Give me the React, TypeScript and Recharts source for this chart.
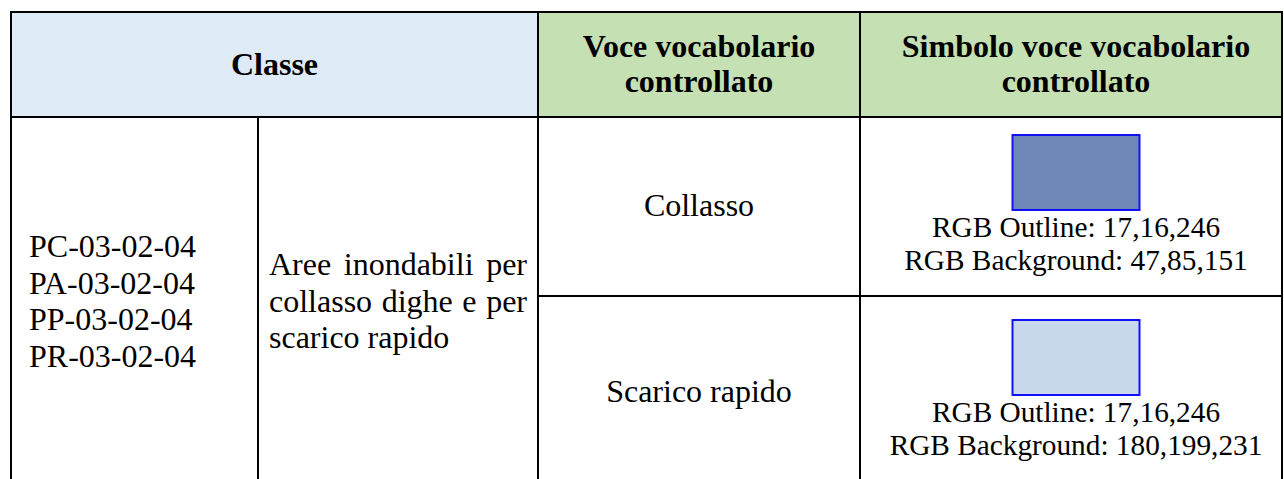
import React from 'react';
import { ComposedChart, XAxis, YAxis, ReferenceArea, ReferenceLine, ReferenceDot } from 'recharts';

// ---- data ----
const headerLabels: string[][] = [['Classe'], ['Voce vocabolario', 'controllato'], ['Simbolo voce vocabolario', 'controllato']];
const classCodes = ['PC-03-02-04', 'PA-03-02-04', 'PP-03-02-04', 'PR-03-02-04'];
const classDescriptionLines = ['Aree inondabili per', 'collasso dighe e per', 'scarico rapido'];
const vocabularyItems = ['Collasso', 'Scarico rapido'];
const outlineRGB: number[][] = [[17, 16, 246], [17, 16, 246]];
const backgroundRGB: number[][] = [[47, 85, 151], [180, 199, 231]];

// ---- layout ----
const W = 1284;
const H = 479;
const FONT = '"Liberation Serif", "Times New Roman", serif';
const colX = [11, 258, 538, 860, 1282];
const topY = 12;
const headerBottom = 117;
const rowDivY = 296;
const bottomY = 490;

const rgb = (c: number[]) => `rgb(${c[0]},${c[1]},${c[2]})`;

let ctx: CanvasRenderingContext2D | null = null;
const measure = (t: string, font: string) => {
  if (!ctx) ctx = document.createElement('canvas').getContext('2d');
  if (!ctx) return t.length * 14;
  ctx.font = font;
  return ctx.measureText(t).width;
};

const txt = (key: string, x: number, y: number, value: string, opts: any = {}) => (
  <ReferenceDot
    key={key}
    x={x}
    y={y}
    r={0}
    ifOverflow="visible"
    shape={(p: any) => (
      <text
        x={p.cx}
        y={p.cy}
        fontFamily={FONT}
        fontSize={opts.size || 32}
        fontWeight={opts.bold ? 'bold' : 'normal'}
        textAnchor={opts.anchor || 'middle'}
        fill="#000"
      >
        {value}
      </text>
    )}
  />
);

const justified = (key: string, x0: number, x1: number, y: number, line: string, last: boolean) => {
  const words = line.split(' ');
  const font = `32px ${FONT}`;
  const widths = words.map((w) => measure(w, font));
  const total = widths.reduce((a, b) => a + b, 0);
  const gap = last || words.length < 2 ? measure(' ', font) : (x1 - x0 - total) / (words.length - 1);
  let cur = x0;
  return words.map((w, i) => {
    const el = txt(`${key}-${i}`, cur, y, w, { anchor: 'start' });
    cur += widths[i] + gap;
    return el;
  });
};

const seg = (key: string, x1: number, y1: number, x2: number, y2: number) => (
  <ReferenceLine
    key={key}
    segment={[{ x: x1, y: y1 }, { x: x2, y: y2 }]}
    stroke="#000"
    strokeWidth={2}
    ifOverflow="visible"
  />
);

export default function App() {
  const symbolCenter = 1076;
  const vocabCenter = (colX[2] + colX[3]) / 2;
  const rowTops = [headerBottom, rowDivY];
  const swatchTop = [135, 320];
  const swatchH = 75;
  const swatchW = 127;
  const labelBase = [237, 422];
  const vocabBase = [216, 402];
  return (
    <div style={{ position: 'absolute', left: 0, top: 0, width: W, height: H, background: '#fff' }}>
      <ComposedChart width={W} height={H} data={[{ x: 0, y: 0 }]} margin={{ top: 0, right: 0, bottom: 0, left: 0 }}>
        <XAxis type="number" dataKey="x" domain={[0, W]} hide allowDataOverflow />
        <YAxis type="number" dataKey="y" domain={[0, H]} reversed hide allowDataOverflow />
        {/* header backgrounds */}
        <ReferenceArea x1={colX[0]} x2={colX[2]} y1={topY} y2={headerBottom} fill="#DEEAF6" fillOpacity={1} stroke="none" ifOverflow="visible" />
        <ReferenceArea x1={colX[2]} x2={colX[4]} y1={topY} y2={headerBottom} fill="#C5E0B3" fillOpacity={1} stroke="none" ifOverflow="visible" />
        {/* swatches */}
        {vocabularyItems.map((_, i) => (
          <ReferenceArea
            key={`sw${i}`}
            x1={symbolCenter - swatchW / 2}
            x2={symbolCenter + swatchW / 2}
            y1={swatchTop[i]}
            y2={swatchTop[i] + swatchH}
            fill={rgb(backgroundRGB[i])}
            fillOpacity={0.7}
            stroke={rgb(outlineRGB[i])}
            strokeOpacity={1}
            strokeWidth={2}
            ifOverflow="visible"
          />
        ))}
        {/* borders */}
        {seg('top', colX[0] - 1, topY, colX[4] + 1, topY)}
        {seg('hb', colX[0] - 1, headerBottom, colX[4] + 1, headerBottom)}
        {seg('rd', colX[2], rowDivY, colX[4] + 1, rowDivY)}
        {seg('v0', colX[0], topY, colX[0], bottomY)}
        {seg('v1', colX[1], headerBottom, colX[1], bottomY)}
        {seg('v2', colX[2], topY, colX[2], bottomY)}
        {seg('v3', colX[3], topY, colX[3], bottomY)}
        {seg('v4', colX[4], topY, colX[4], bottomY)}
        {/* header text */}
        {txt('h0', (colX[0] + colX[2]) / 2, 75, headerLabels[0][0], { bold: true })}
        {headerLabels[1].map((l, i) => txt(`h1${i}`, vocabCenter, 57 + i * 35, l, { bold: true }))}
        {headerLabels[2].map((l, i) => txt(`h2${i}`, symbolCenter, 57 + i * 35, l, { bold: true }))}
        {/* class codes */}
        {classCodes.map((c, i) => txt(`cc${i}`, 29, 257 + i * 36.7, c, { anchor: 'start' }))}
        {/* description */}
        {classDescriptionLines.map((l, i) =>
          justified(`d${i}`, 269, 527, 275 + i * 36.7, l, i === classDescriptionLines.length - 1)
        )}
        {/* vocabulary */}
        {vocabularyItems.map((v, i) => txt(`v${i}`, vocabCenter, vocabBase[i], v))}
        {/* symbol labels */}
        {vocabularyItems.map((_, i) => [
          txt(`o${i}`, symbolCenter, labelBase[i], `RGB Outline: ${outlineRGB[i].join(',')}`, { size: 29.3 }),
          txt(`b${i}`, symbolCenter, labelBase[i] + 33, `RGB Background: ${backgroundRGB[i].join(',')}`, { size: 29.3 }),
        ])}
      </ComposedChart>
    </div>
  );
}
